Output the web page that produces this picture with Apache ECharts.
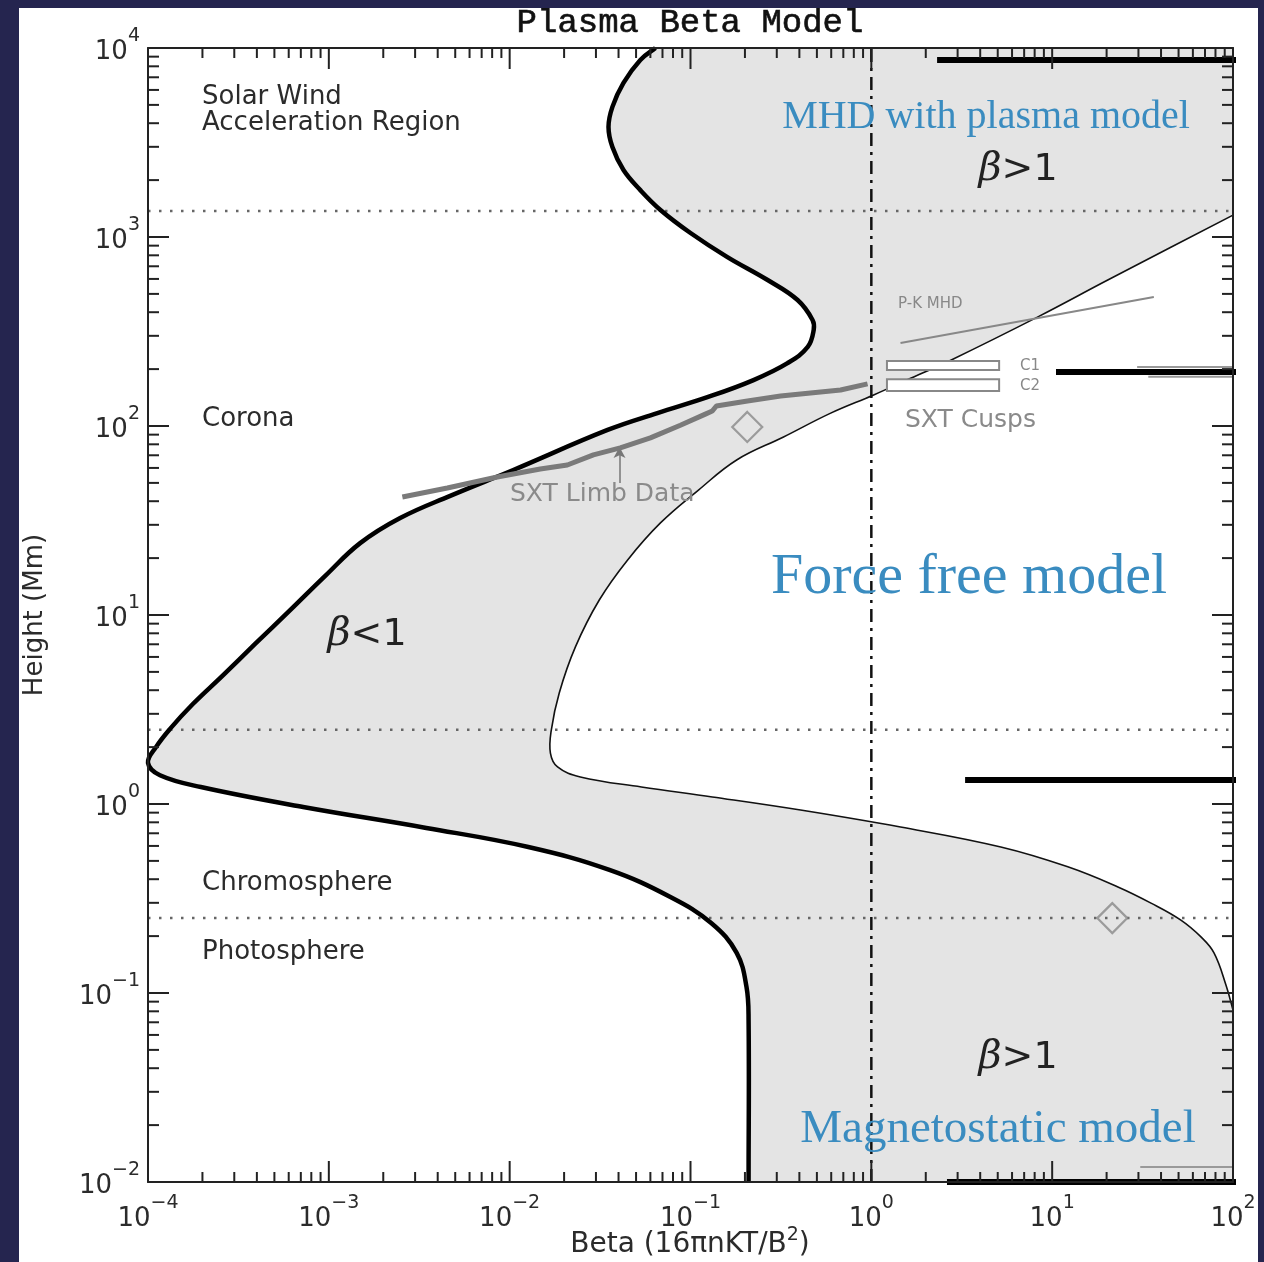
<!DOCTYPE html>
<html><head><meta charset="utf-8">
<script src="https://cdn.jsdelivr.net/npm/echarts@6/dist/echarts.min.js"></script>
<style>
html,body{margin:0;padding:0;background:#25254f;width:1264px;height:1262px;overflow:hidden}
#frame{position:absolute;left:19px;top:8px;width:1239px;height:1254px;background:#fff}
#chart{width:1239px;height:1254px}
</style></head><body>
<div id="frame"><div id="chart"></div></div>
<script>
// ---------- data (beta, height in Mm) ----------
// lower beta boundary (thick curve), top to bottom
const thickBeta = [0.0640,0.0528,0.0426,0.0370,0.0352,0.0370,0.0426,0.0528,0.0682,0.100,0.160,0.267,0.391,0.473,0.480,0.445,0.344,0.223,0.124,0.0656,0.0348,0.01047,0.00469,0.00248,0.00149,0.000955,0.000611,0.000391,0.000257,0.000177,0.000132,0.0001107,0.0001,0.0001165,0.000196,0.000721,0.00346,0.01268,0.0356,0.0774,0.1306,0.180,0.204,0.2095,0.2095];
const thickHeight = [10000,8640,6540,4880,3820,2990,2260,1770,1390,1050,783,592,464,364,322,262,215,175,142,117,95.3,58.5,42.7,32.6,24.0,16.1,10.6,7.03,4.75,3.38,2.49,2.00,1.65,1.42,1.23,0.964,0.747,0.592,0.448,0.322,0.234,0.163,0.1077,0.0720,0.01];
// upper beta boundary (thin curve), top to bottom
const thinBeta = [100,20.3,8.34,2.75,1.57,1.03,0.596,0.327,0.180,0.1107,0.0682,0.0448,0.0313,0.0231,0.0188,0.0170,0.0168,0.0184,0.0246,0.0535,0.132,0.406,1.45,5.20,12.2,23.1,35.2,51.5,66.5,78.5,91.5,100];
const thinHeight = [1306,592,378,223,175,146,117,87.5,66.1,45.8,30.7,19.5,12.0,6.78,3.87,2.47,1.86,1.57,1.39,1.23,1.09,0.929,0.755,0.592,0.465,0.364,0.299,0.243,0.198,0.163,0.110,0.0813];
// SXT limb data
const sxtBeta = [0.00255,0.00452,0.00854,0.01476,0.02084,0.02904,0.0409,0.0600,0.0879,0.1208,0.132,0.139,0.2066,0.315,0.461,0.676,0.953];
const sxtHeight = [42.1,47.0,53.7,59.2,62.2,70.3,76.6,86.5,101,115.6,120,127.6,135.6,144,149.6,155,167];
// P-K MHD line
const pkBeta = [1.45,36.5];
const pkHeight = [275,482];
// SXT cusps boxes: [betaMin, betaMax], [hMin, hMax]
const cuspNames = ['C1','C2'];
const cuspBeta = [[1.22,5.09],[1.22,5.09]];
const cuspHeight = [[198,221],[153,177]];
// diamonds
const diamondBeta = [0.206,21.5];
const diamondHeight = [98.9,0.249];
// arrow to SXT limb data
const arrowBeta = 0.0405;
const arrowHeight = [49.9,77.4];
// region boundaries (dotted)
const layerHeights = [1374,2.47,0.249];
// beta = 1 line
const betaOne = 1;
// stray thick bars at right
const barBeta = [[2.31,118],[10.5,138],[3.30,138],[2.62,133]];
const barHeight = [8640,193,1.34,0.01];
const greyBarBeta = [[29.5,138],[34,138],[30.7,100]];
const greyBarHeight = [205,182,0.012];
// axis ticks
const xTickValues = [1e-4,1e-3,1e-2,1e-1,1,10,100];
const yTickValues = [1e-2,1e-1,1,10,100,1000,10000];

const X0 = 1e-4, X1 = 100, Y0 = 1e-2, Y1 = 1e4;
const SMOOTH = 0.4;
const zip = (a,b) => a.map((v,i)=>[v,b[i]]);
const minorOf = (majors) => { const r=[]; for (let i=0;i<majors.length-1;i++) for (let m=2;m<=9;m++) r.push(majors[i]*m); return r; };

const SANS = 'DejaVu Sans';
const TXT = '#2b2b2b';
function powLabel(v){ const e=Math.round(Math.log10(v)); return '{b|10}{s|'+(e<0?'−'+(-e):e)+'}'; }
const labRich = {
  b:{fontSize:26,fontFamily:SANS,color:TXT,lineHeight:28},
  s:{fontSize:19,fontFamily:SANS,color:TXT,lineHeight:19,padding:[0,0,32,0]}
};

const chart = echarts.init(document.getElementById('chart'));

function lineSeries(data, style, extra){
  return Object.assign({type:'line', data:data, symbol:'none', lineStyle:style, silent:true, animation:false, z:4}, extra||{});
}
// duplicate end points so the library smoothing keeps ends straight
function coordsOf(api, bs, hs){
  const pts=[];
  for (let i=0;i<bs.length;i++){
    const p=api.coord([bs[i],hs[i]]);
    pts.push(p);
    if (i===0 || i===bs.length-1) pts.push(p.slice());
  }
  return pts;
}
function curveSeries(bs, hs, color, width, z){
  return {type:'custom', z:z, silent:true, animation:false, data:[[1,1]],
    renderItem:function(params, api){
      return {type:'polyline', shape:{points:coordsOf(api,bs,hs), smooth:SMOOTH}, style:{stroke:color, lineWidth:width, fill:null, lineJoin:'round'}};
    }};
}

const series = [];
// shaded region
series.push({
  type:'custom', z:1, silent:true, animation:false, data:[[1,1]],
  renderItem:function(params, api){
    let pts = coordsOf(api, thickBeta, thickHeight);
    const c1=api.coord([X1,Y0]); pts.push(c1, c1.slice());
    const rb=thinBeta.slice().reverse(), rh=thinHeight.slice().reverse();
    pts = pts.concat(coordsOf(api, rb, rh));
    const c2=api.coord([X1,Y1]); pts.push(c2, c2.slice());
    return {type:'polygon', shape:{points:pts, smooth:SMOOTH}, style:{fill:'#e4e4e4'}};
  }
});
// dotted layer lines
layerHeights.forEach(h=>series.push(lineSeries([[X0,h],[X1,h]],{color:'#666',width:2.5,type:[2.5,8.5]})));
// beta=1 dash-dot
series.push(lineSeries([[betaOne,Y0],[betaOne,Y1]],{color:'#111',width:2.5,type:[13,6,3,6]}));
// thin boundary
series.push(curveSeries(thinBeta, thinHeight, '#111', 1.6, 4));
// thick boundary
series.push(curveSeries(thickBeta, thickHeight, '#000', 4.5, 5));
// SXT limb data + arrow
series.push(lineSeries(zip(sxtBeta,sxtHeight),{color:'#7a7a7a',width:5},{z:6,
  markLine:{silent:true,symbol:['none','arrow'],symbolSize:[9,11],animation:false,label:{show:false},
    lineStyle:{color:'#777',width:1.5,type:'solid'},
    data:[[{coord:[arrowBeta,arrowHeight[0]]},{coord:[arrowBeta,arrowHeight[1]]}]]}
}));
// P-K MHD
series.push(lineSeries(zip(pkBeta,pkHeight),{color:'#888',width:2}));
// cusp boxes
series.push({
  type:'custom', z:6, silent:true, animation:false, data:cuspNames.map((n,i)=>[i]),
  renderItem:function(params, api){
    const i=params.dataIndex;
    const a=api.coord([cuspBeta[i][0],cuspHeight[i][1]]);
    const b=api.coord([cuspBeta[i][1],cuspHeight[i][0]]);
    return {type:'rect', shape:{x:a[0],y:a[1],width:b[0]-a[0],height:b[1]-a[1]}, style:{fill:'#fff',stroke:'#888',lineWidth:2}};
  }
});
// diamonds
series.push({type:'scatter', z:6, silent:true, animation:false, data:zip(diamondBeta,diamondHeight),
  symbol:'diamond', symbolSize:[30,30], itemStyle:{color:'rgba(0,0,0,0)',borderColor:'#888',borderWidth:2.2}});
// stray bars
barBeta.forEach((b,i)=>series.push(lineSeries([[b[0],barHeight[i]],[b[1],barHeight[i]]],{color:'#000',width:6},{clip:false,z:8})));
greyBarBeta.forEach((b,i)=>series.push(lineSeries([[b[0],greyBarHeight[i]],[b[1],greyBarHeight[i]]],{color:'#999',width:2},{clip:false,z:7})));
// ticks
const xMinor = minorOf(xTickValues), yMinor = minorOf(yTickValues);
series.push({
  type:'custom', z:9, silent:true, animation:false, data:[[1,1]],
  renderItem:function(params, api){
    const ch=[]; const st={stroke:'#222',lineWidth:2};
    const addX=(v,len)=>{const p=api.coord([v,Y0]),q=api.coord([v,Y1]);
      ch.push({type:'line',shape:{x1:p[0],y1:p[1],x2:p[0],y2:p[1]-len},style:st});
      ch.push({type:'line',shape:{x1:q[0],y1:q[1],x2:q[0],y2:q[1]+len},style:st});};
    const addY=(v,len)=>{const p=api.coord([X0,v]),q=api.coord([X1,v]);
      ch.push({type:'line',shape:{x1:p[0],y1:p[1],x2:p[0]+len,y2:p[1]},style:st});
      ch.push({type:'line',shape:{x1:q[0],y1:q[1],x2:q[0]-len,y2:q[1]},style:st});};
    xTickValues.forEach(v=>addX(v,21)); xMinor.forEach(v=>addX(v,10));
    yTickValues.forEach(v=>addY(v,21)); yMinor.forEach(v=>addY(v,11));
    return {type:'group',children:ch};
  }
});

const axisBase = {type:'log', logBase:10, splitLine:{show:false}, axisTick:{show:false}, z:10,
  axisLine:{show:true,onZero:false,lineStyle:{color:'#222',width:2}}};

function txt(x,y,text,size,color){
  return {type:'text', x:x, y:y, z:50, silent:true,
    style:{text:text, font:size+'px "'+SANS+'"', fill:color, align:'left', verticalAlign:'middle'}};
}
const BLUE = '#3a8cc0';
function serif(x,y,text,size){
  return {type:'text', x:x, y:y, z:50, silent:true, style:{text:text, font:size+'px "Liberation Serif"', fill:BLUE, align:'center', verticalAlign:'middle'}};
}
function beta(x,y,op){
  return {type:'text', x:x, y:y, z:50, silent:true, style:{text:'{g|β}{t|'+op+'1}', align:'center', verticalAlign:'middle',
    rich:{g:{fontFamily:'DejaVu Serif',fontStyle:'italic',fontSize:40,fill:'#222',color:'#222'},
          t:{fontFamily:SANS,fontSize:38,fill:'#222',color:'#222'}}}};
}

const option = {
  animation:false,
  backgroundColor:'#fff',
  grid:{left:129, top:40, width:1085, height:1134, containLabel:false, outerBoundsMode:'none'},
  xAxis:[
    Object.assign({}, axisBase, {min:X0, max:X1, position:'bottom',
      axisLabel:{customValues:xTickValues, formatter:powLabel, rich:labRich, margin:23, verticalAlign:'top'}}),
    Object.assign({}, axisBase, {min:X0, max:X1, position:'top', axisLabel:{show:false}})
  ],
  yAxis:[
    Object.assign({}, axisBase, {min:Y0, max:Y1, position:'left',
      axisLabel:{customValues:yTickValues, formatter:powLabel, rich:labRich, margin:8, verticalAlign:'middle', padding:[8,0,0,0]},
      name:'Height (Mm)', nameLocation:'middle', nameGap:100,
      nameTextStyle:{fontSize:26,fontFamily:SANS,color:TXT}}),
    Object.assign({}, axisBase, {min:Y0, max:Y1, position:'right', axisLabel:{show:false}})
  ],
  series:series,
  graphic:[
    {type:'text', x:671, y:15, z:50, silent:true, style:{text:'Plasma Beta Model', font:'34px "Liberation Mono"', fill:'#111', stroke:'#111', lineWidth:0.6, align:'center', verticalAlign:'middle'}},
    {type:'text', x:671, y:1237, z:50, silent:true, style:{text:'{n|Beta (16πnKT/B}{s|2}{n|)}', align:'center', verticalAlign:'middle',
      rich:{n:{fontSize:28,fontFamily:SANS,fill:TXT,color:TXT},s:{fontSize:19,fontFamily:SANS,fill:TXT,color:TXT,padding:[0,0,20,0]}}}},
    txt(183,89,'Solar Wind',26,TXT),
    txt(183,115,'Acceleration Region',26,TXT),
    txt(183,411,'Corona',26,TXT),
    txt(183,875,'Chromosphere',26,TXT),
    txt(183,944,'Photosphere',26,TXT),
    txt(491,486,'SXT Limb Data',25,'#8a8a8a'),
    txt(886,412,'SXT Cusps',25,'#8a8a8a'),
    txt(879,296,'P-K MHD',15,'#888'),
    txt(1001,358,'C1',15,'#888'),
    txt(1001,378,'C2',15,'#888'),
    serif(967,109,'MHD with plasma model',40),
    serif(950,570,'Force free model',58),
    serif(979,1122,'Magnetostatic model',47),
    beta(999,162,'>'),
    beta(348,627,'<'),
    beta(999,1050,'>')
  ]
};
chart.setOption(option);
</script>
</body></html>
